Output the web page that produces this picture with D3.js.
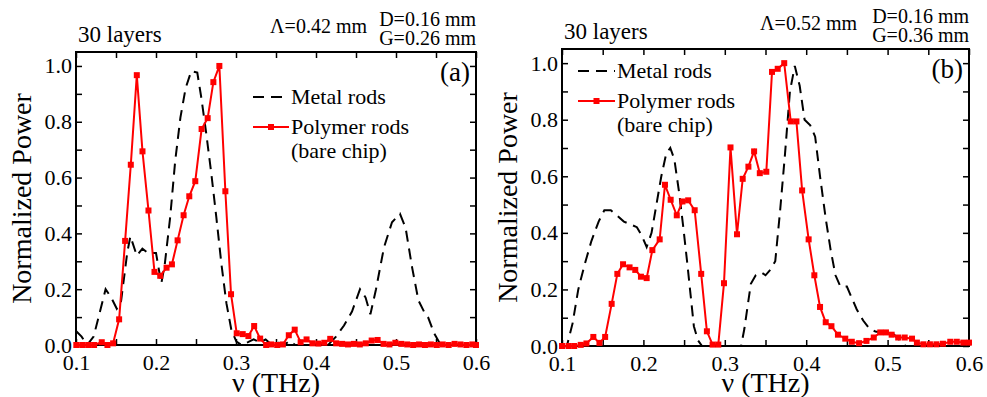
<!DOCTYPE html>
<html>
<head>
<meta charset="utf-8">
<script src="https://cdn.jsdelivr.net/npm/d3@7"></script>
<style>
  body { margin: 0; background: #fff; }
  svg text { font-family: "Liberation Serif", "Times New Roman", serif; fill: #000; }
</style>
</head>
<body>
<svg id="chart" width="987" height="397"></svg>
<script>
// panel (a): Λ=0.42 mm
var freqPolyA = [0.1004, 0.1078, 0.1152, 0.1226, 0.1322, 0.1393, 0.1464, 0.1539, 0.1614, 0.1685, 0.176, 0.1831, 0.1906, 0.1981, 0.2053, 0.2132, 0.2199, 0.227, 0.2345, 0.2416, 0.2491, 0.257, 0.2646, 0.2717, 0.2792, 0.2867, 0.2938, 0.3009, 0.3084, 0.3155, 0.3227, 0.3302, 0.3377, 0.344, 0.3515, 0.3586, 0.366, 0.3734, 0.3808, 0.3882, 0.3956, 0.403, 0.4104, 0.4178, 0.4252, 0.4326, 0.44, 0.4474, 0.4548, 0.4622, 0.4696, 0.477, 0.4844, 0.4918, 0.4992, 0.5066, 0.514, 0.5214, 0.5288, 0.5362, 0.5436, 0.551, 0.5584, 0.5658, 0.5732, 0.5806, 0.588, 0.5954, 0.6];
var powPolyA = [0, 0, 0, 0, 0.01, 0, 0.006, 0.092, 0.373, 0.646, 0.967, 0.694, 0.482, 0.262, 0.248, 0.277, 0.289, 0.375, 0.465, 0.533, 0.587, 0.774, 0.813, 0.942, 1.0, 0.551, 0.182, 0.042, 0.039, 0.032, 0.068, 0.023, 0, 0.002, 0, 0.002, 0.035, 0.055, 0.01, 0.02, 0.006, 0.005, 0.008, 0.022, 0.006, 0.004, 0.002, 0.004, 0.002, 0.006, 0.016, 0.018, 0.004, 0.002, 0.008, 0.004, 0.002, 0, 0.002, 0, 0.002, 0, 0.002, 0, 0.004, 0.002, 0, 0.002, 0];
var freqMetalA = [0.1, 0.107, 0.114, 0.122, 0.13, 0.137, 0.144, 0.151, 0.156, 0.164, 0.168, 0.176, 0.183, 0.19, 0.2, 0.2066, 0.211, 0.2178, 0.224, 0.2305, 0.237, 0.2441, 0.2516, 0.2566, 0.2629, 0.2692, 0.2754, 0.2817, 0.288, 0.2942, 0.3005, 0.3068, 0.315, 0.322, 0.33, 0.337, 0.345, 0.352, 0.36, 0.367, 0.374, 0.39, 0.415, 0.425, 0.435, 0.445, 0.455, 0.462, 0.468, 0.475, 0.485, 0.495, 0.505, 0.512, 0.52, 0.528, 0.535, 0.54, 0.548, 0.556, 0.6];
var powMetalA = [0.05, 0.03, 0.0, 0.03, 0.12, 0.2, 0.17, 0.13, 0.15, 0.33, 0.39, 0.32, 0.345, 0.33, 0.33, 0.22, 0.29, 0.46, 0.66, 0.815, 0.92, 0.982, 0.976, 0.887, 0.756, 0.613, 0.458, 0.292, 0.15, 0.054, 0.012, 0, 0.01, 0.02, 0.01, 0.02, 0.0, 0.01, 0.0, 0.015, 0.0, 0.0, 0.0, 0.03, 0.07, 0.12, 0.2, 0.17, 0.11, 0.2, 0.35, 0.44, 0.47, 0.42, 0.28, 0.16, 0.12, 0.1, 0.04, 0.0, 0.0];

// panel (b): Λ=0.52 mm
var freqPolyB = [0.1, 0.108, 0.115, 0.123, 0.13, 0.1385, 0.146, 0.153, 0.161, 0.168, 0.175, 0.183, 0.19, 0.197, 0.204, 0.211, 0.22, 0.2265, 0.2335, 0.241, 0.248, 0.255, 0.263, 0.271, 0.278, 0.285, 0.292, 0.299, 0.307, 0.315, 0.322, 0.329, 0.336, 0.343, 0.351, 0.358, 0.365, 0.373, 0.381, 0.388, 0.395, 0.403, 0.41, 0.417, 0.424, 0.431, 0.439, 0.448, 0.456, 0.465, 0.474, 0.483, 0.491, 0.498, 0.505, 0.513, 0.521, 0.53, 0.536, 0.544, 0.552, 0.56, 0.568, 0.577, 0.585, 0.593, 0.6];
var powPolyB = [0, 0, 0, 0.004, 0.009, 0.032, 0.011, 0.032, 0.149, 0.255, 0.289, 0.278, 0.269, 0.245, 0.24, 0.339, 0.377, 0.57, 0.517, 0.462, 0.511, 0.515, 0.48, 0.255, 0.052, 0.005, 0.005, 0.222, 0.702, 0.395, 0.591, 0.634, 0.688, 0.611, 0.616, 0.969, 0.98, 1.0, 0.794, 0.794, 0.55, 0.377, 0.25, 0.138, 0.084, 0.07, 0.04, 0.026, 0.015, 0.01, 0.018, 0.03, 0.048, 0.048, 0.04, 0.03, 0.03, 0.026, 0.012, 0.006, 0.006, 0.006, 0.008, 0.015, 0.015, 0.012, 0.012];
var freqMetalB = [0.1, 0.106, 0.113, 0.12, 0.128, 0.136, 0.145, 0.152, 0.16, 0.168, 0.176, 0.184, 0.192, 0.198, 0.204, 0.21, 0.216, 0.222, 0.228, 0.233, 0.238, 0.244, 0.249, 0.254, 0.258, 0.262, 0.267, 0.272, 0.32, 0.324, 0.328, 0.332, 0.338, 0.345, 0.35, 0.356, 0.362, 0.368, 0.374, 0.38, 0.386, 0.392, 0.398, 0.405, 0.411, 0.417, 0.424, 0.43, 0.436, 0.442, 0.45, 0.456, 0.462, 0.47, 0.478, 0.486, 0.494, 0.5, 0.508, 0.515, 0.522, 0.6];
var powMetalB = [0, 0, 0.08, 0.2, 0.29, 0.37, 0.44, 0.48, 0.48, 0.46, 0.44, 0.43, 0.42, 0.39, 0.35, 0.4, 0.5, 0.6, 0.68, 0.7, 0.66, 0.54, 0.42, 0.29, 0.18, 0.07, 0.02, 0, 0, 0.06, 0.14, 0.22, 0.25, 0.26, 0.25, 0.27, 0.3, 0.48, 0.68, 0.9, 0.99, 0.92, 0.8, 0.78, 0.74, 0.6, 0.45, 0.34, 0.25, 0.21, 0.21, 0.17, 0.13, 0.09, 0.06, 0.05, 0.05, 0.05, 0.04, 0.02, 0, 0];

var xTicks = [0.1, 0.15, 0.2, 0.25, 0.3, 0.35, 0.4, 0.45, 0.5, 0.55, 0.6];
var yTicks = [0, 0.1, 0.2, 0.3, 0.4, 0.5, 0.6, 0.7, 0.8, 0.9, 1.0];
var legendNames = ["Metal rods", "Polymer rods", "(bare chip)"];

var svg = d3.select("#chart");
var fontPx = 22;

function drawPanel(p) {
  var x = d3.scaleLinear().domain([0.1, 0.6]).range([p.left, p.right]);
  var y = d3.scaleLinear().domain([0, 1.05]).range([p.bottom, p.top]);
  var g = svg.append("g");

  // axes, ticks pointing inward
  var fmtX = function (d) { return Math.abs(d * 10 - Math.round(d * 10)) < 1e-6 ? d3.format(".1f")(d) : ""; };
  var fmtY = function (d) { return Math.round(d * 10) % 2 == 0 ? d3.format(".1f")(d) : ""; };
  var ax = [
    [d3.axisBottom(x).tickValues(xTicks).tickFormat(fmtX).tickPadding(9), "translate(0," + p.bottom + ")"],
    [d3.axisTop(x).tickValues(xTicks).tickFormat(""), "translate(0," + p.top + ")"],
    [d3.axisLeft(y).tickValues(yTicks).tickFormat(fmtY).tickPadding(4), "translate(" + p.left + ",0)"],
    [d3.axisRight(y).tickValues(yTicks).tickFormat(""), "translate(" + p.right + ",0)"]
  ];
  ax.forEach(function (a) {
    var sel = g.append("g").attr("transform", a[1]).call(a[0].tickSizeInner(-6).tickSizeOuter(0));
    sel.select(".domain").remove();
    sel.selectAll("line").attr("stroke", "#000").attr("stroke-width", 1.5);
    sel.selectAll("text").style("font-size", fontPx + "px").attr("font-family", null);
  });
  g.append("rect")
    .attr("x", p.left).attr("y", p.top)
    .attr("width", p.right - p.left).attr("height", p.bottom - p.top)
    .attr("fill", "none").attr("stroke", "#000").attr("stroke-width", 2);

  var line = d3.line().x(function (d) { return x(d[0]); }).y(function (d) { return y(d[1]); });
  var metal = d3.zip(p.fMetal, p.pMetal);
  var poly = d3.zip(p.fPoly, p.pPoly);

  g.append("path").datum(metal).attr("d", line)
    .attr("fill", "none").attr("stroke", "#000").attr("stroke-width", 2)
    .attr("stroke-dasharray", "11,7");
  g.append("path").datum(poly).attr("d", line)
    .attr("fill", "none").attr("stroke", "#ff0000").attr("stroke-width", 2);
  g.selectAll("rect.pt").data(poly).enter().append("rect").attr("class", "pt")
    .attr("x", function (d) { return x(d[0]) - 3; })
    .attr("y", function (d) { return y(d[1]) - 3; })
    .attr("width", 6).attr("height", 6).attr("fill", "#ff0000");

  // legend
  var L = p.legend;
  g.append("line").attr("x1", L.x0).attr("x2", L.x1).attr("y1", L.y1).attr("y2", L.y1)
    .attr("stroke", "#000").attr("stroke-width", 2).attr("stroke-dasharray", "11,7");
  g.append("line").attr("x1", L.x0).attr("x2", L.x1).attr("y1", L.y2).attr("y2", L.y2)
    .attr("stroke", "#ff0000").attr("stroke-width", 2);
  g.append("rect").attr("x", (L.x0 + L.x1) / 2 - 3).attr("y", L.y2 - 3)
    .attr("width", 6).attr("height", 6).attr("fill", "#ff0000");
  g.append("text").attr("x", L.x1 + 2).attr("y", L.y1 + 7).style("font-size", "22px").text(legendNames[0]);
  g.append("text").attr("x", L.x1 + 2).attr("y", L.y2 + 7).style("font-size", "22px").text(legendNames[1]);
  g.append("text").attr("x", L.x1 + 2).attr("y", L.y2 + 31).style("font-size", "22px").text(legendNames[2]);

  g.append("text").attr("x", p.right - 6).attr("y", p.top + 29)
    .attr("text-anchor", "end").style("font-size", "27px").text(p.tag);

  // headers
  g.append("text").attr("x", p.left + 2).attr("y", p.top - 10).style("font-size", "23px").text("30 layers");
  g.append("text").attr("x", p.lamX).attr("y", p.top - 19).attr("text-anchor", "end")
    .style("font-size", "20px").text(p.lambda);
  g.append("text").attr("x", p.right).attr("y", p.top - 26).attr("text-anchor", "end")
    .style("font-size", "20px").text(p.dText);
  g.append("text").attr("x", p.right).attr("y", p.top - 7).attr("text-anchor", "end")
    .style("font-size", "20px").text(p.gText);

  // axis titles
  g.append("text").attr("x", (p.left + p.right) / 2).attr("y", 392)
    .attr("text-anchor", "middle").style("font-size", "28px").text("ν (THz)");
  g.append("text")
    .attr("transform", "translate(" + p.yTitleX + "," + (p.top + p.bottom) / 2 + ") rotate(-90)")
    .attr("text-anchor", "middle").style("font-size", "28px").text("Normalized Power");
}

drawPanel({
  left: 76, right: 476, top: 52, bottom: 345,
  fPoly: freqPolyA, pPoly: powPolyA, fMetal: freqMetalA, pMetal: powMetalA,
  legend: {x0: 253, x1: 289, y1: 97, y2: 127},
  tag: "(a)", lambda: "Λ=0.42 mm", lamX: 367, dText: "D=0.16 mm", gText: "G=0.26 mm",
  yTitleX: 31
});
drawPanel({
  left: 562, right: 969, top: 49, bottom: 346,
  fPoly: freqPolyB, pPoly: powPolyB, fMetal: freqMetalB, pMetal: powMetalB,
  legend: {x0: 578, x1: 615, y1: 71, y2: 101},
  tag: "(b)", lambda: "Λ=0.52 mm", lamX: 857, dText: "D=0.16 mm", gText: "G=0.36 mm",
  yTitleX: 517
});
</script>
</body>
</html>
